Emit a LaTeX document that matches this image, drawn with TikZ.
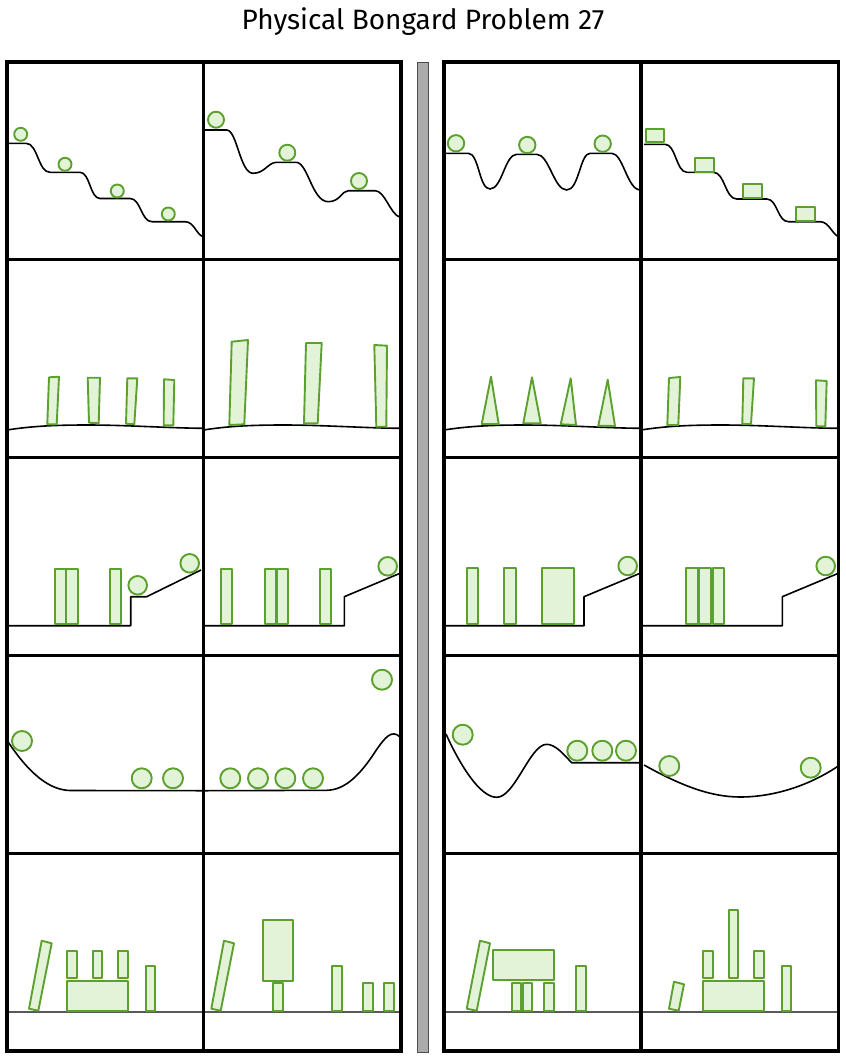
\documentclass[tikz,border=0pt]{standalone}
\usepackage{fontspec}
\setmainfont{Fira Sans}
\definecolor{objgreen}{RGB}{92,161,48}
\definecolor{objfill}{RGB}{227,243,216}
\begin{document}
\begin{tikzpicture}[x=1pt,y=-1pt,
 obj/.style={draw=objgreen,fill=objfill,line width=1.9pt,line join=round},
 gnd/.style={draw=black,line width=1.6pt,line join=round},
 panelframe/.style={draw=black,line width=3.2pt},
 floorline/.style={draw=black!65,line width=1.7pt},
 sepbar/.style={draw=black!70,fill=black!33,line width=0.8pt}]
\fill[white] (0,0) rectangle (846,1058);
\useasboundingbox (0,0) rectangle (846,1058);
\node[font=\fontsize{28}{32}\selectfont,inner sep=0pt] (title) at (423,22) {Physical Bongard Problem 27};

% ---------- Row 1 ----------
\draw[gnd] (7,143.3) -- (26,143.3) .. controls (38,143.3) and (38,172.3) .. (50,172.3) -- (80,172.3) .. controls (90,172.3) and (90,198.5) .. (100,198.5) -- (130,198.5) .. controls (141,198.5) and (141,221.7) .. (152,221.7) -- (185,221.7) .. controls (194,221.7) and (196,234) .. (203,236.7);
\foreach \cx/\cy in {20.7/134.3,65/164.3,117.3/191,168.3/214}
  \draw[obj] (\cx,\cy) circle[radius=6.5pt];

\draw[gnd] (205,130) -- (226.7,130) .. controls (237,130) and (240,173.3) .. (253,173.3) .. controls (265,173.3) and (268,162.3) .. (276.7,162.3) -- (296,162.3) .. controls (308,162.3) and (312,201.7) .. (328.3,201.7) .. controls (340,201.7) and (342,190.7) .. (348.3,190.7) -- (375,190.7) .. controls (385,190.7) and (390,214) .. (400,217.3);
\foreach \cx/\cy in {216/119.7,287.3/152.7,359/181}
  \draw[obj] (\cx,\cy) circle[radius=8pt];

\draw[gnd] (444,153.3) -- (468.3,153.3) .. controls (479,153.3) and (479,189) .. (490,189) .. controls (502,189) and (505,154.3) .. (516.7,154.3) -- (536.7,154.3) .. controls (549,154.3) and (554,190) .. (566.7,190) .. controls (579,190) and (580,153.3) .. (590,153.3) -- (611.7,153.3) .. controls (623,153.3) and (627,189) .. (640,190);
\foreach \cx/\cy in {456/143.3,527.3/145,602.7/143.7}
  \draw[obj] (\cx,\cy) circle[radius=8.2pt];

\draw[gnd] (644,144.3) -- (665,144.3) .. controls (676,144.3) and (676,172.3) .. (687,172.3) -- (713.3,172.3) .. controls (725,172.3) and (725,199) .. (736.7,199) -- (766.7,199) .. controls (777.5,199) and (777.5,221.7) .. (788.3,221.7) -- (820,221.7) .. controls (829,221.7) and (832,234) .. (838.5,236.7);
\draw[obj] (645.7,129) rectangle (664.3,141.7);
\draw[obj] (694.7,158.3) rectangle (713.7,171.7);
\draw[obj] (743.3,184.3) rectangle (762,197.7);
\draw[obj] (796,207.3) rectangle (814.7,220.7);

% ---------- Row 2 ----------
\foreach \L in {7,203.5,444,641}
  \draw[gnd] (\L,430) .. controls ({\L+25},426) and ({\L+50},425) .. ({\L+80},425) .. controls ({\L+120},425) and ({\L+160},428) .. ({\L+196.5},428.3);
\draw[obj] (49,377.3) -- (59,376.7) -- (56.7,424.3) -- (47.3,424.3) -- cycle;
\draw[obj] (87.7,377.7) -- (100,377.7) -- (98.7,423.3) -- (89,422.7) -- cycle;
\draw[obj] (127.3,378.3) -- (137.3,378.3) -- (134.3,424.3) -- (126,423.7) -- cycle;
\draw[obj] (164,379.3) -- (174.3,380) -- (173.3,425.3) -- (163.7,425.3) -- cycle;

\draw[obj] (231.7,341.7) -- (248,340) -- (244.3,424.3) -- (229.3,425) -- cycle;
\draw[obj] (306,343) -- (321.7,343) -- (317.7,423.3) -- (304,423.3) -- cycle;
\draw[obj] (374.3,345) -- (387,345.7) -- (386.3,426.7) -- (376.3,426.7) -- cycle;

\draw[obj] (491,376.7) -- (498.7,424) -- (481.7,424) -- cycle;
\draw[obj] (532,377.3) -- (540.7,423.3) -- (523.3,423.3) -- cycle;
\draw[obj] (570.7,378.3) -- (576,425) -- (560.7,424.3) -- cycle;
\draw[obj] (607.7,379.7) -- (615,426) -- (598.3,425.7) -- cycle;

\draw[obj] (669,378) -- (680.3,377) -- (678.3,425) -- (667.3,425) -- cycle;
\draw[obj] (743.3,378.3) -- (754,378.3) -- (751,424) -- (742.3,424) -- cycle;
\draw[obj] (816,380.3) -- (826.7,381) -- (825.3,426.3) -- (816.3,426.3) -- cycle;

% ---------- Row 3 ----------
\draw[gnd] (7,625.7) -- (130.7,625.7) -- (130.7,596.7) -- (146.7,596.7) -- (201,570);
\draw[obj] (55,569) rectangle (66,623.7);
\draw[obj] (66,569) rectangle (77.7,623.7);
\draw[obj] (110,569) rectangle (121,623.7);
\draw[obj] (137.7,585.3) circle[radius=9.3pt];
\draw[obj] (189.7,563.3) circle[radius=9.3pt];

\draw[gnd] (205,625.7) -- (344.3,625.7) -- (344.3,596.7) -- (400,573.3);
\draw[obj] (221,569) rectangle (232.3,623.7);
\draw[obj] (265,569) rectangle (276,623.7);
\draw[obj] (276.7,569) rectangle (287.7,623.7);
\draw[obj] (320,569) rectangle (331,623.7);
\draw[obj] (387.7,566.3) circle[radius=9.3pt];

\draw[gnd] (444,625.7) -- (584,625.7) -- (584,596.7) -- (640,573.3);
\draw[obj] (466.7,568.3) rectangle (478.3,623.7);
\draw[obj] (504.3,568.3) rectangle (516,623.7);
\draw[obj] (541.7,568.3) rectangle (574.3,623.7);
\draw[obj] (627.7,566) circle[radius=9.3pt];

\draw[gnd] (641,625.7) -- (782.3,625.7) -- (782.3,596.7) -- (838.3,573.3);
\draw[obj] (686,568.3) rectangle (697.7,623.7);
\draw[obj] (699.3,568.3) rectangle (710.7,623.7);
\draw[obj] (713.3,568.3) rectangle (724.3,623.7);
\draw[obj] (825.7,566) circle[radius=9.3pt];

% ---------- Row 4 ----------
\draw[gnd] (7.3,740.7) .. controls (30,775) and (50,790) .. (70,790.5) -- (203.3,790.7);
\draw[obj] (22,741) circle[radius=10pt];
\draw[obj] (141.7,778.3) circle[radius=10pt];
\draw[obj] (173,778.3) circle[radius=10pt];

\draw[gnd] (205,790.7) -- (326.7,790.3) .. controls (345,790) and (360,775) .. (375,752) .. controls (385,737) and (392,729) .. (400,737);
\foreach \cx in {230.3,258,285.3,313}
  \draw[obj] (\cx,778.3) circle[radius=10pt];
\draw[obj] (382,679.7) circle[radius=10pt];

\draw[gnd] (446,734) .. controls (460,765) and (480,797.3) .. (496.7,797.3) .. controls (515,797.3) and (530,744.3) .. (546.7,744.3) .. controls (556,744.3) and (565,756) .. (571.7,762.7) -- (640,762.7);
\foreach \cx/\cy in {462.7/734.7,577.3/750.7,602.3/750.7,626/750.7}
  \draw[obj] (\cx,\cy) circle[radius=10pt];

\draw[gnd] (644,765) .. controls (680,785) and (710,797) .. (740,797) .. controls (775,797) and (810,785) .. (838.3,766);
\draw[obj] (669.3,766) circle[radius=10pt];
\draw[obj] (810.7,767.7) circle[radius=10pt];

% ---------- Row 5 ----------
\foreach \L/\R in {7/203.5,203.5/401,444/641,641/838.5}
  \draw[floorline] (\L,1012.3) -- (\R,1012.3);
\draw[obj] (41.7,940.7) -- (51.7,943.3) -- (38.3,1010.7) -- (29,1008.7) -- cycle;
\draw[obj] (67.3,950.7) rectangle (76.7,978.3);
\draw[obj] (92.7,950.7) rectangle (102.3,978.3);
\draw[obj] (118.3,950.7) rectangle (127.7,978.3);
\draw[obj] (67.3,981) rectangle (128,1010.7);
\draw[obj] (146,966) rectangle (155.3,1010.7);

\draw[obj] (224,940.7) -- (234,943.3) -- (220.7,1010.7) -- (211.3,1008.7) -- cycle;
\draw[obj] (262.7,920) rectangle (293.3,981);
\draw[obj] (272.7,982.7) rectangle (282.7,1010.7);
\draw[obj] (332,966) rectangle (341.7,1010.7);
\draw[obj] (363,982.7) rectangle (372.7,1010.7);
\draw[obj] (384,982.7) rectangle (394,1010.7);

\draw[obj] (480,940.7) -- (490,943.3) -- (476.7,1010.7) -- (466.7,1008.7) -- cycle;
\draw[obj] (493.3,950) rectangle (554,980);
\draw[obj] (511.7,982.7) rectangle (520.7,1010.7);
\draw[obj] (522.7,982.7) rectangle (532.3,1010.7);
\draw[obj] (544,982.7) rectangle (554,1010.7);
\draw[obj] (575.7,966) rectangle (585.7,1010.7);

\draw[obj] (674,981.7) -- (684,984.3) -- (678.7,1010.7) -- (669,1008.7) -- cycle;
\draw[obj] (703.3,981) rectangle (764,1010.7);
\draw[obj] (703.3,950.7) rectangle (712.7,978.3);
\draw[obj] (754.3,950.7) rectangle (764,978.3);
\draw[obj] (728.7,910) rectangle (738.3,978.3);
\draw[obj] (782,966) rectangle (791.3,1010.7);

% ---------- Frames ----------
\draw[sepbar] (417.5,62) rectangle (428.5,1052);
\foreach \L/\R in {7/203.5,203.5/401,444/641,641/838.5}
  \foreach \T/\B in {62/259.5,259.5/457.3,457.3/655.3,655.3/853.3,853.3/1051}
    \draw[panelframe] (\L,\T) rectangle (\R,\B);
\end{tikzpicture}
\end{document}
